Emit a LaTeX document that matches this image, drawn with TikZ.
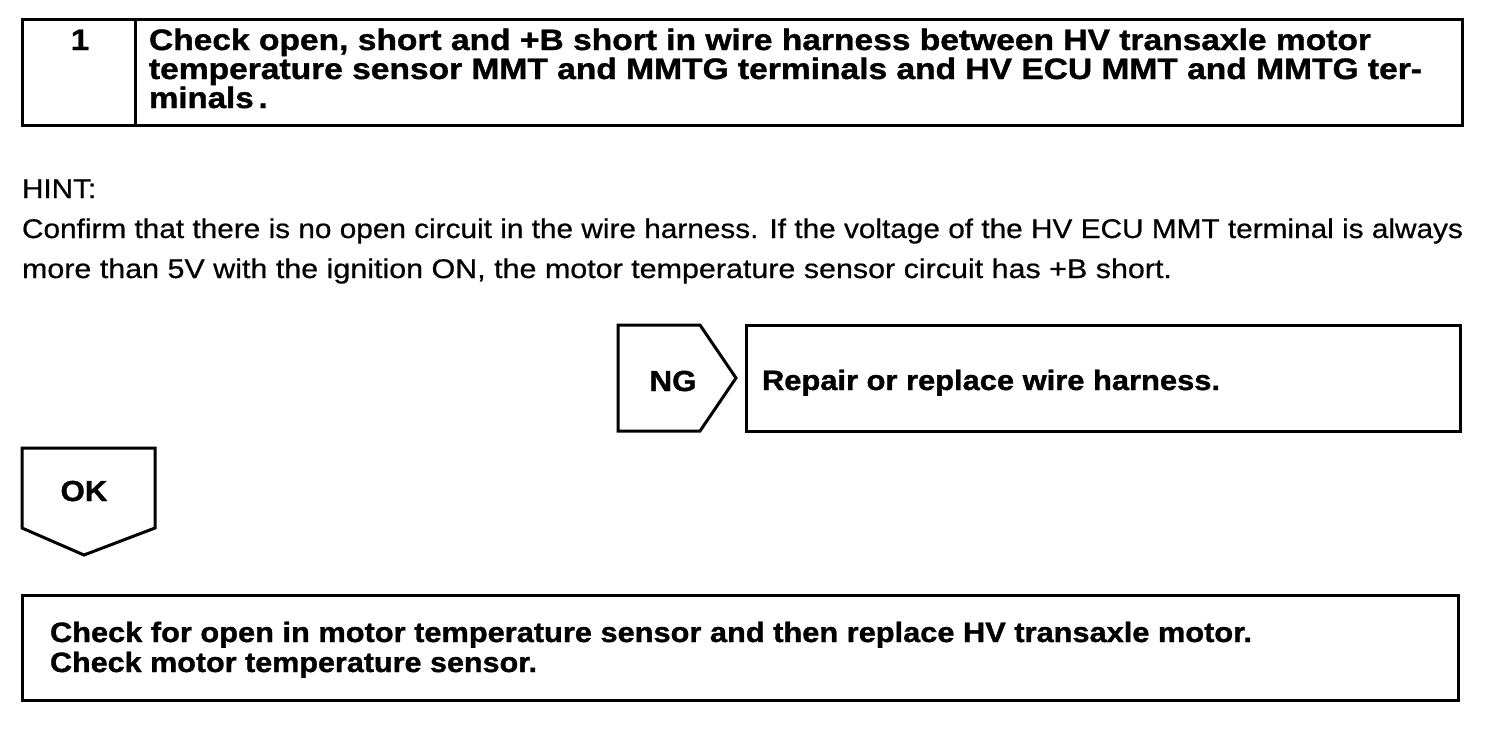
\documentclass[tikz,border=0pt]{standalone}
\usepackage{fontspec}
\usepackage{graphicx}
\setmainfont{Liberation Sans}
\newfontfamily\topbold[FakeStretch=1.12, FakeBold=1.2]{Liberation Sans Bold}
\newfontfamily\lowbold[FakeStretch=1.08, FakeBold=1.2]{Liberation Sans Bold}
\newfontfamily\hintreg[FakeStretch=1.1, FakeBold=0.6]{Liberation Sans}
\newcommand{\fitw}[2]{\resizebox{#1}{\height}{#2}}
\tikzset{
  frame/.style={draw=black, line width=3pt, line join=miter},
  txt/.style={anchor=base west, inner sep=0pt, outer sep=0pt},
  ctxt/.style={anchor=base, inner sep=0pt, outer sep=0pt},
  tfont/.style={font=\topbold\fontsize{29.5pt}{30pt}\selectfont},
  lfont/.style={font=\lowbold\fontsize{28pt}{29pt}\selectfont},
  hfont/.style={font=\hintreg\fontsize{27pt}{28pt}\selectfont},
}
\begin{document}
\begin{tikzpicture}[x=1pt, y=-1pt]
\useasboundingbox (0,0) rectangle (1504,728);
% top box
\draw[frame] (22,19) rectangle (1462,125);
\draw[frame] (135,19) -- (135,125);
\node[ctxt, tfont] (num) at (80,50) {1};
\node[txt, tfont] (t1) at (149,50) {\fitw{1222pt}{Check open, short and +B short in wire harness between HV transaxle motor}};
\node[txt, tfont] (t2) at (149,79) {\fitw{1273pt}{temperature sensor MMT and MMTG terminals and HV ECU MMT and MMTG ter-}};
\node[txt, tfont] (t3) at (149,108) {minals\,.};
% hint
\node[txt, hfont] (hint) at (22,198) {HINT:};
\node[txt, hfont] (h1) at (22,238) {\fitw{1441pt}{Confirm that there is no open circuit in the wire harness. If the voltage of the HV ECU MMT terminal is always}};
\node[txt, hfont] (h2) at (22,278) {\fitw{1150pt}{more than 5V with the ignition ON, the motor temperature sensor circuit has +B short.}};
% NG
\draw[frame] (618,325) -- (700,325) -- (736,378) -- (700,431) -- (618,431) -- cycle;
\node[ctxt, lfont] (ng) at (673,391) {\fontsize{29pt}{30pt}\selectfont NG};
\draw[frame] (746,325) rectangle (1460,431);
\node[txt, lfont] (rep) at (762,390) {\fitw{458pt}{Repair or replace wire harness.}};
% OK
\draw[frame] (22,448) -- (155,448) -- (155,528) -- (84,555) -- (22,528) -- cycle;
\node[ctxt, lfont] (ok) at (84,501) {\fontsize{29pt}{30pt}\selectfont OK};
% bottom box
\draw[frame] (22,595) rectangle (1458,700);
\node[txt, lfont] (b1) at (50,642) {\fitw{1202pt}{Check for open in motor temperature sensor and then replace HV transaxle motor.}};
\node[txt, lfont] (b2) at (50,672) {\fitw{487pt}{Check motor temperature sensor.}};
\end{tikzpicture}
\end{document}
